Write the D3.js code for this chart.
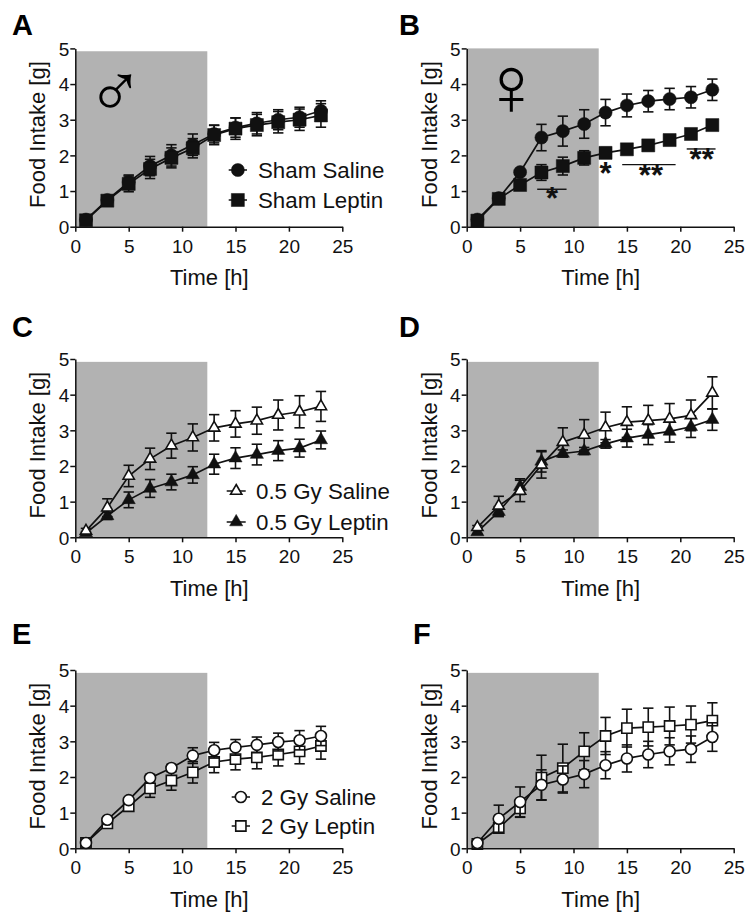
<!DOCTYPE html>
<html>
<head>
<meta charset="utf-8">
<script src="https://cdn.jsdelivr.net/npm/d3@7"></script>
<style>
  html, body { margin: 0; padding: 0; background: #fff; }
  svg { display: block; font-family: "Liberation Sans", Arial, sans-serif; }
</style>
</head>
<body>
<div id="chart"></div>
<script>
// Shared x values and tick labels
const hours = [1, 3, 5, 7, 9, 11, 13, 15, 17, 19, 21, 23];
const xTicks = [0, 5, 10, 15, 20, 25];
const yTicks = [0, 1, 2, 3, 4, 5];

// Panel A
const aSaline = [0.2, 0.75, 1.25, 1.7, 2.0, 2.3, 2.6, 2.78, 2.9, 3.0, 3.07, 3.25];
const aSalineErr = [0.03, 0.1, 0.2, 0.27, 0.3, 0.3, 0.25, 0.27, 0.3, 0.28, 0.28, 0.28];
const aLeptin = [0.18, 0.73, 1.2, 1.62, 1.93, 2.2, 2.57, 2.75, 2.85, 2.93, 3.0, 3.12];
const aLeptinErr = [0.03, 0.1, 0.22, 0.27, 0.28, 0.27, 0.27, 0.3, 0.3, 0.3, 0.3, 0.33];

// Panel B
const bSaline = [0.2, 0.8, 1.53, 2.5, 2.68, 2.88, 3.2, 3.4, 3.52, 3.58, 3.63, 3.84];
const bSalineErr = [0.05, 0.1, 0.05, 0.37, 0.42, 0.4, 0.37, 0.32, 0.3, 0.3, 0.3, 0.3];
const bLeptin = [0.17, 0.78, 1.17, 1.52, 1.7, 1.93, 2.07, 2.17, 2.28, 2.43, 2.6, 2.85];
const bLeptinErr = [0.05, 0.08, 0.1, 0.22, 0.25, 0.2, 0.15, 0.13, 0.13, 0.13, 0.12, 0.1];

// Panel C
const cSaline = [0.18, 0.83, 1.72, 2.2, 2.57, 2.8, 3.07, 3.18, 3.27, 3.43, 3.52, 3.67];
const cSalineErr = [0.07, 0.25, 0.3, 0.3, 0.35, 0.38, 0.37, 0.37, 0.38, 0.42, 0.45, 0.42];
const cLeptin = [0.12, 0.6, 1.05, 1.37, 1.55, 1.75, 2.05, 2.22, 2.32, 2.43, 2.5, 2.73];
const cLeptinErr = [0.04, 0.1, 0.22, 0.25, 0.22, 0.23, 0.28, 0.29, 0.29, 0.28, 0.25, 0.25];

// Panel D
const dSaline = [0.28, 0.88, 1.3, 2.03, 2.67, 2.87, 3.08, 3.23, 3.27, 3.32, 3.42, 4.05];
const dSalineErr = [0.05, 0.27, 0.3, 0.37, 0.4, 0.43, 0.43, 0.43, 0.43, 0.43, 0.43, 0.45];
const dLeptin = [0.15, 0.72, 1.42, 2.13, 2.35, 2.42, 2.62, 2.78, 2.88, 2.97, 3.1, 3.3];
const dLeptinErr = [0.05, 0.14, 0.22, 0.3, 0.1, 0.1, 0.12, 0.25, 0.28, 0.3, 0.3, 0.3];

// Panel E
const eSaline = [0.15, 0.8, 1.35, 1.97, 2.25, 2.6, 2.75, 2.83, 2.9, 2.98, 3.03, 3.15];
const eSalineErr = [0.03, 0.07, 0.07, 0.1, 0.1, 0.22, 0.22, 0.22, 0.22, 0.25, 0.27, 0.27];
const eLeptin = [0.15, 0.7, 1.18, 1.68, 1.9, 2.13, 2.42, 2.5, 2.55, 2.63, 2.72, 2.87];
const eLeptinErr = [0.03, 0.05, 0.1, 0.25, 0.27, 0.3, 0.3, 0.3, 0.32, 0.32, 0.35, 0.37];

// Panel F
const fSaline = [0.15, 0.83, 1.3, 1.78, 1.93, 2.08, 2.33, 2.52, 2.63, 2.72, 2.78, 3.12];
const fSalineErr = [0.04, 0.38, 0.42, 0.42, 0.38, 0.38, 0.38, 0.38, 0.37, 0.38, 0.37, 0.4];
const fLeptin = [0.12, 0.57, 1.12, 1.98, 2.25, 2.72, 3.15, 3.37, 3.4, 3.43, 3.47, 3.58];
const fLeptinErr = [0.03, 0.12, 0.25, 0.63, 0.67, 0.52, 0.52, 0.53, 0.53, 0.53, 0.52, 0.5];

// Significance bars in panel B: [from, to, level]
const sigBars = [[6.6, 9.35, 1.05], [14.56, 19.56, 1.74], [20.6, 23.3, 2.18]];
// Significance stars in panel B: [x, baseline level, text]
const sigStars = [[8, 0.49, "*"], [13, 1.19, "*"], [17.25, 1.15, "**"], [22, 1.59, "**"]];

const ink = "#111";
const width = 746, height = 914;
const plotW = 267, plotH = 178.3;

const svg = d3.select("#chart").append("svg")
  .attr("width", width)
  .attr("height", height);

const shapes = {
  circle: { type: d3.symbolCircle, filled: 135, open: 95 },
  square: { type: d3.symbolSquare, filled: 170, open: 105 },
  triangle: { type: d3.symbolTriangle, filled: 75, open: 55 }
};

function drawMarker(g, x, y, shape, open) {
  const s = shapes[shape];
  g.append("path")
    .attr("transform", `translate(${x},${y})`)
    .attr("d", d3.symbol().type(s.type).size(open ? s.open : s.filled)())
    .attr("fill", open ? "#fff" : ink)
    .attr("stroke", ink)
    .attr("stroke-width", open ? 1.6 : 0.5);
}

function drawSeries(g, x, y, s) {
  const line = d3.line().x((d, i) => x(hours[i])).y(d => y(d));

  // error bars sit under the connecting line and markers
  s.values.forEach((v, i) => {
    const px = x(hours[i]);
    const top = y(v + s.err[i]);
    const bottom = y(v - s.err[i]);
    g.append("line").attr("x1", px).attr("x2", px).attr("y1", top).attr("y2", bottom)
      .attr("stroke", ink).attr("stroke-width", 1.6);
    [top, bottom].forEach(c => {
      g.append("line").attr("x1", px - 5.2).attr("x2", px + 5.2).attr("y1", c).attr("y2", c)
        .attr("stroke", ink).attr("stroke-width", 1.6);
    });
  });

  g.append("path")
    .attr("d", line(s.values))
    .attr("fill", "none")
    .attr("stroke", ink)
    .attr("stroke-width", 1.7);

  s.values.forEach((v, i) => drawMarker(g, x(hours[i]), y(v), s.shape, s.open));
}

function drawPanel(p) {
  const g = svg.append("g").attr("transform", `translate(${p.left},${p.top})`);
  const x = d3.scaleLinear().domain([0, 25]).range([0, plotW]);
  const y = d3.scaleLinear().domain([0, 5]).range([plotH, 0]);

  // dark phase
  g.append("rect")
    .attr("x", x(0))
    .attr("y", y(p.shadeTop))
    .attr("width", x(12.36))
    .attr("height", y(0) - y(p.shadeTop))
    .attr("fill", "#b2b2b2");

  p.series.forEach(s => drawSeries(g, x, y, s));

  const xAxis = g.append("g")
    .attr("transform", `translate(0,${plotH})`)
    .call(d3.axisBottom(x).tickValues(xTicks).tickFormat(d3.format("d")).tickSize(5).tickSizeOuter(0));
  const yAxis = g.append("g")
    .call(d3.axisLeft(y).tickValues(yTicks).tickFormat(d3.format("d")).tickSize(5).tickSizeOuter(0));
  [xAxis, yAxis].forEach(a => {
    a.selectAll("path, line").attr("stroke", ink).attr("stroke-width", 1.5);
    a.selectAll("text").attr("fill", ink).attr("font-size", 19).attr("font-family", "Liberation Sans");
  });
  xAxis.selectAll("text").attr("dy", "0.95em");
  yAxis.selectAll("text").attr("x", -6).attr("dy", "0.36em");

  g.append("text")
    .attr("x", 134)
    .attr("y", plotH + 58.5)
    .attr("text-anchor", "middle")
    .attr("font-size", 22)
    .attr("fill", ink)
    .text("Time [h]");

  g.append("text")
    .attr("transform", `translate(-30,${plotH / 2 - 3}) rotate(-90)`)
    .attr("text-anchor", "middle")
    .attr("font-size", 22)
    .attr("fill", ink)
    .text("Food Intake [g]");

  svg.append("text")
    .attr("x", p.letterX)
    .attr("y", p.letterY)
    .attr("font-size", 29)
    .attr("font-weight", "bold")
    .attr("fill", "#000")
    .text(p.letter);

  if (p.legend) {
    p.series.slice().sort((a, b) => a.order - b.order).forEach((s, i) => {
      const ly = p.legend.ys[i];
      svg.append("line")
        .attr("x1", p.legend.x1).attr("x2", p.legend.x2).attr("y1", ly).attr("y2", ly)
        .attr("stroke", ink).attr("stroke-width", 1.5);
      drawMarker(svg, (p.legend.x1 + p.legend.x2) / 2, ly, s.shape, s.open);
      svg.append("text")
        .attr("x", p.legend.textX)
        .attr("y", ly + 7.5)
        .attr("font-size", 22.3)
        .attr("fill", ink)
        .text(s.name);
    });
  }

  if (p.sex) {
    svg.append("text")
      .attr("x", p.sex.x)
      .attr("y", p.sex.y)
      .attr("text-anchor", "middle")
      .attr("font-family", "Liberation Sans")
      .attr("font-size", p.sex.size)
      .attr("fill", "#000")
      .text(p.sex.glyph);
  }

  if (p.stats) {
    sigBars.forEach(b => {
      g.append("line")
        .attr("x1", x(b[0])).attr("x2", x(b[1])).attr("y1", y(b[2])).attr("y2", y(b[2]))
        .attr("stroke", ink).attr("stroke-width", 1.4);
    });
    sigStars.forEach(s => {
      g.append("text")
        .attr("x", x(s[0]))
        .attr("y", y(s[1]))
        .attr("text-anchor", "middle")
        .attr("font-size", 31)
        .attr("font-weight", "bold")
        .attr("fill", ink)
        .text(s[2]);
    });
  }
}

const panels = [
  {
    letter: "A", left: 75.3, top: 48.4, letterX: 12, letterY: 35, shadeTop: 4.92,
    sex: { glyph: "\u2642", x: 115.5, y: 117, size: 76 },
    legend: { x1: 228.7, x2: 247, textX: 258, ys: [170, 200] },
    series: [
      { name: "Sham Saline", values: aSaline, err: aSalineErr, shape: "circle", open: false, order: 0 },
      { name: "Sham Leptin", values: aLeptin, err: aLeptinErr, shape: "square", open: false, order: 1 }
    ]
  },
  {
    letter: "B", left: 466.7, top: 48.4, letterX: 399, letterY: 35, shadeTop: 5, stats: true,
    sex: { glyph: "\u2640", x: 511.5, y: 115, size: 84 },
    series: [
      { values: bSaline, err: bSalineErr, shape: "circle", open: false, order: 0 },
      { values: bLeptin, err: bLeptinErr, shape: "square", open: false, order: 1 }
    ]
  },
  {
    letter: "C", left: 75.3, top: 359, letterX: 12, letterY: 337, shadeTop: 4.92,
    legend: { x1: 226.7, x2: 245.7, textX: 256, ys: [491, 522] },
    series: [
      { name: "0.5 Gy Leptin", values: cLeptin, err: cLeptinErr, shape: "triangle", open: false, order: 1 },
      { name: "0.5 Gy Saline", values: cSaline, err: cSalineErr, shape: "triangle", open: true, order: 0 }
    ]
  },
  {
    letter: "D", left: 466.7, top: 359, letterX: 399, letterY: 337, shadeTop: 4.92,
    series: [
      { values: dLeptin, err: dLeptinErr, shape: "triangle", open: false, order: 1 },
      { values: dSaline, err: dSalineErr, shape: "triangle", open: true, order: 0 }
    ]
  },
  {
    letter: "E", left: 75.3, top: 670, letterX: 12, letterY: 644, shadeTop: 4.92,
    legend: { x1: 231.7, x2: 250, textX: 261, ys: [797, 826] },
    series: [
      { name: "2 Gy Leptin", values: eLeptin, err: eLeptinErr, shape: "square", open: true, order: 1 },
      { name: "2 Gy Saline", values: eSaline, err: eSalineErr, shape: "circle", open: true, order: 0 }
    ]
  },
  {
    letter: "F", left: 466.7, top: 670, letterX: 413, letterY: 644, shadeTop: 4.92,
    series: [
      { values: fLeptin, err: fLeptinErr, shape: "square", open: true, order: 1 },
      { values: fSaline, err: fSalineErr, shape: "circle", open: true, order: 0 }
    ]
  }
];

panels.forEach(drawPanel);
</script>
</body>
</html>
